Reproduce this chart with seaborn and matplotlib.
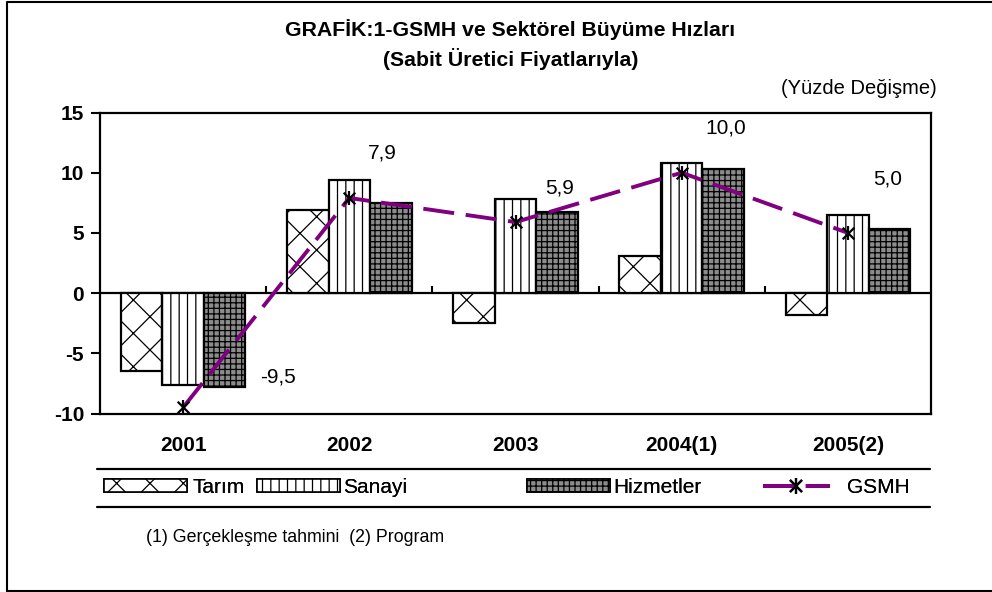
import numpy as np
import pandas as pd
import matplotlib
matplotlib.use("Agg")
import matplotlib.pyplot as plt
from matplotlib.patches import Patch
from matplotlib.lines import Line2D
from matplotlib.legend_handler import HandlerTuple
import seaborn as sns

# Data
years = ["2001", "2002", "2003", "2004(1)", "2005(2)"]
sectors = ["Tarım", "Sanayi", "Hizmetler"]
tarim = [-6.5, 6.9, -2.5, 3.1, -1.8]
sanayi = [-7.6, 9.4, 7.8, 10.8, 6.5]
hizmetler = [-7.8, 7.5, 6.7, 10.3, 5.3]
gsmh = [-9.5, 7.9, 5.9, 10.0, 5.0]
gsmh_labels = ["-9,5", "7,9", "5,9", "10,0", "5,0"]
y_ticks = [-10, -5, 0, 5, 10, 15]

# label offsets (pixels) relative to each GSMH point
label_offsets = [(95, 30), (33, 45), (44, 34), (44, 45), (40, 54)]

sns.set_theme(style="white")
plt.rcParams["font.family"] = ["Liberation Sans", "DejaVu Sans"]
plt.rcParams["hatch.linewidth"] = 0.9
for k in ("text.color", "xtick.color", "ytick.color", "axes.labelcolor"):
    plt.rcParams[k] = "black"

purple = "#800080"
face = {"Tarım": "white", "Sanayi": "white", "Hizmetler": "#8c8c8c"}
hatches = {"Tarım": "x", "Sanayi": "||", "Hizmetler": "+++"}

df = pd.DataFrame({
    "Yıl": years * 3,
    "Sektör": np.repeat(sectors, len(years)),
    "Değer": tarim + sanayi + hizmetler,
})

fig = plt.figure(figsize=(9.92, 5.92), dpi=100)
ax = fig.add_axes([100 / 992, 1 - 413.5 / 592, 831 / 992, 301 / 592])

ax.axhline(0, color="black", lw=1.6, zorder=1)
sns.barplot(data=df, x="Yıl", y="Değer", hue="Sektör", order=years,
            hue_order=sectors, palette=face, width=0.75, saturation=1,
            edgecolor="black", linewidth=1.6, legend=False, ax=ax, zorder=2)
for sector, cont in zip(sectors, ax.containers):
    for bar in cont:
        bar.set_hatch(hatches[sector])

# boundary ticks on the zero line
ax.vlines(np.arange(1, len(years)) - 0.5, 0, 0.6, color="black", lw=1.5, zorder=3)

x = np.arange(len(years))
sns.lineplot(x=x, y=gsmh, color=purple, linewidth=2.8, ax=ax, zorder=5)
ax.lines[-1].set_dashes((8, 3))
ax.scatter(x, gsmh, marker="x", s=70, color="black", linewidths=1.6, zorder=6)
ax.scatter(x, gsmh, marker="|", s=110, color="black", linewidths=1.6, zorder=6)

for i, (v, lbl) in enumerate(zip(gsmh, gsmh_labels)):
    ax.annotate(lbl, (i, v), xytext=label_offsets[i], textcoords="offset pixels",
                ha="center", va="center", fontsize=15)

ax.set_xlim(-0.5, len(years) - 0.5)
ax.set_ylim(-10, 15)
ax.set_yticks(y_ticks)
ax.set_yticklabels([str(t) for t in y_ticks], fontweight="bold", fontsize=15)
ax.set_xticks(x)
ax.set_xticklabels(years, fontweight="bold", fontsize=15)
ax.tick_params(axis="x", length=0, pad=16)
ax.tick_params(axis="y", length=6.5, width=1.5, direction="out", left=True, pad=5)
ax.set_xlabel("")
ax.set_ylabel("")
for sp in ax.spines.values():
    sp.set_color("black")
    sp.set_linewidth(1.6)

# titles and notes
fig.text(510 / 992, 1 - 30 / 592, "GRAFİK:1-GSMH ve Sektörel Büyüme Hızları",
         ha="center", va="center", fontsize=15.3, fontweight="bold")
fig.text(511 / 992, 1 - 59 / 592, "(Sabit Üretici Fiyatlarıyla)",
         ha="center", va="center", fontsize=15.3, fontweight="bold")
fig.text(937 / 992, 1 - 89 / 592, "(Yüzde Değişme)", ha="right", va="center",
         fontsize=14.5)
fig.text(146 / 992, 1 - 537 / 592, "(1) Gerçekleşme tahmini  (2) Program",
         ha="left", va="center", fontsize=12.8)

# legend, one entry at a time to match the uneven spacing
line_h = (Line2D([], [], color=purple, lw=2.8, dashes=(8, 3)),
          Line2D([], [], marker="x", color="black", ls="none", ms=9, mew=1.6),
          Line2D([], [], marker="|", color="black", ls="none", ms=11, mew=1.6))
entries = [
    (Patch(facecolor=face[s], edgecolor="black", hatch=hatches[s], lw=1.2), s)
    for s in sectors
] + [(line_h, "GSMH")]
anchors = [104, 257, 527, 763]
hlens = [4.0, 4.0, 4.0, 3.2]
tpads = [0.25, 0.15, 0.15, 0.85]
for (h, lbl), ax0, hl, tp in zip(entries, anchors, hlens, tpads):
    leg = fig.legend([h], [lbl], loc="center left",
                     bbox_to_anchor=(ax0 / 992, 1 - 487.5 / 592),
                     frameon=False, fontsize=15, handlelength=hl,
                     handleheight=0.55, handletextpad=tp, borderpad=0,
                     borderaxespad=0,
                     handler_map={tuple: HandlerTuple(ndivide=1, pad=0)})
    fig.add_artist(leg)

for yy in (469, 507):
    fig.add_artist(Line2D([97 / 992, 930 / 992], [1 - yy / 592] * 2,
                          transform=fig.transFigure, color="black", lw=1.6))

# outer frame (left, top, bottom)
fig.add_artist(Line2D([7 / 992, 7 / 992, 1], [1 - 591 / 592, 1 - 1.5 / 592, 1 - 1.5 / 592],
                      transform=fig.transFigure, color="black", lw=1.5))
fig.add_artist(Line2D([7 / 992, 1], [1 - 590.5 / 592] * 2,
                      transform=fig.transFigure, color="black", lw=1.5))

fig.savefig("out.png", dpi=100)
